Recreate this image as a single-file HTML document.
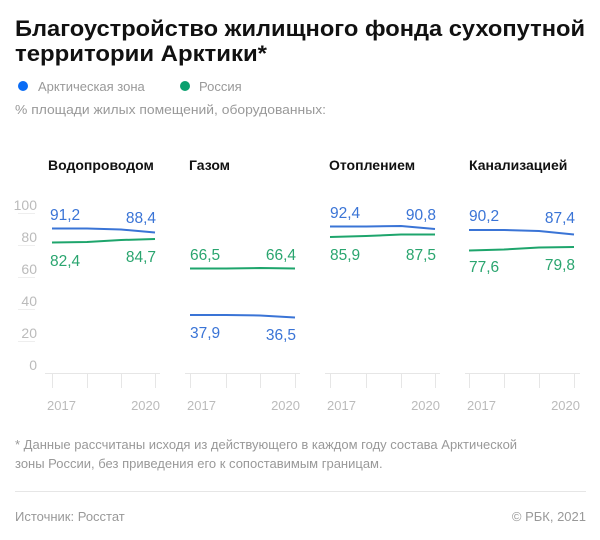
<!DOCTYPE html>
<html><head><meta charset="utf-8"><style>
body{margin:0;background:#fff}
svg{display:block;font-family:"Liberation Sans","DejaVu Sans",sans-serif}
</style></head><body>
<svg width="600" height="540" viewBox="0 0 600 540" xmlns="http://www.w3.org/2000/svg">
<text x="15" y="36" font-size="22.5" font-weight="bold" fill="#111" textLength="570" lengthAdjust="spacingAndGlyphs">Благоустройство жилищного фонда сухопутной</text>
<text x="15" y="61" font-size="22.5" font-weight="bold" fill="#111" textLength="252" lengthAdjust="spacingAndGlyphs">территории Арктики*</text>
<circle cx="23" cy="86" r="5" fill="#0a6cf5"/>
<text x="38" y="91" font-size="13" fill="#999">Арктическая зона</text>
<circle cx="185" cy="86" r="5" fill="#0aa06e"/>
<text x="199" y="91" font-size="13" fill="#999">Россия</text>
<text x="15" y="114" font-size="13" fill="#999" textLength="311" lengthAdjust="spacingAndGlyphs">% площади жилых помещений, оборудованных:</text>

<g font-size="14" font-weight="bold" fill="#111">
<text x="48" y="170">Водопроводом</text>
<text x="189" y="170">Газом</text>
<text x="329" y="170">Отоплением</text>
<text x="469" y="170">Канализацией</text>
</g>

<g font-size="14" fill="#bbb" text-anchor="end">
<text x="37" y="210">100</text><text x="37" y="242">80</text><text x="37" y="274">60</text>
<text x="37" y="306">40</text><text x="37" y="338">20</text><text x="37" y="370">0</text>
</g>
<g stroke="#eee" stroke-width="1">
<line x1="18" x2="35" y1="213.5" y2="213.5"/><line x1="18" x2="35" y1="245.5" y2="245.5"/>
<line x1="18" x2="35" y1="277.5" y2="277.5"/><line x1="18" x2="35" y1="309.5" y2="309.5"/>
<line x1="18" x2="35" y1="341.5" y2="341.5"/>
</g>

<g stroke="#e6e6e6" stroke-width="1">
<line x1="45" x2="160" y1="373.5" y2="373.5"/>
<line x1="185" x2="300" y1="373.5" y2="373.5"/>
<line x1="325" x2="440" y1="373.5" y2="373.5"/>
<line x1="465" x2="580" y1="373.5" y2="373.5"/>
<path d="M52.5 373V388M87.5 373V388M121.5 373V388M155.5 373V388M190.5 373V388M226.5 373V388M260.5 373V388M295.5 373V388M330.5 373V388M366.5 373V388M401.5 373V388M435.5 373V388M469.5 373V388M504.5 373V388M539.5 373V388M574.5 373V388"/>
</g>
<g font-size="13" fill="#bbb">
<text x="47" y="410">2017</text><text x="160" y="410" text-anchor="end">2020</text>
<text x="187" y="410">2017</text><text x="300" y="410" text-anchor="end">2020</text>
<text x="327" y="410">2017</text><text x="440" y="410" text-anchor="end">2020</text>
<text x="467" y="410">2017</text><text x="580" y="410" text-anchor="end">2020</text>
</g>

<g fill="none" stroke-width="2">
<polyline stroke="#3a74d6" points="52,228.5 87,228.5 121,229.5 155,232.5"/>
<polyline stroke="#1ea56c" points="52,242.5 87,242 121,240 155,239"/>
<polyline stroke="#1ea56c" points="190,268.5 226,268.5 260,268 295,268.5"/>
<polyline stroke="#3a74d6" points="190,315 226,315 260,315.5 295,317.5"/>
<polyline stroke="#3a74d6" points="330,226.5 366,226.5 401,226 435,229"/>
<polyline stroke="#1ea56c" points="330,237 366,236 401,234.5 435,234.5"/>
<polyline stroke="#3a74d6" points="469,230 504,230 539,231 574,234.5"/>
<polyline stroke="#1ea56c" points="469,250.5 504,249.5 539,247.5 574,247"/>
</g>
<g font-size="15.5">
<g fill="#3a74d6">
<text x="50" y="220">91,2</text><text x="156" y="223" text-anchor="end">88,4</text>
<text x="190" y="338">37,9</text><text x="296" y="340" text-anchor="end">36,5</text>
<text x="330" y="218">92,4</text><text x="436" y="220" text-anchor="end">90,8</text>
<text x="469" y="221">90,2</text><text x="575" y="223" text-anchor="end">87,4</text>
</g>
<g fill="#2aa56f">
<text x="50" y="266">82,4</text><text x="156" y="262" text-anchor="end">84,7</text>
<text x="190" y="260">66,5</text><text x="296" y="260" text-anchor="end">66,4</text>
<text x="330" y="260">85,9</text><text x="436" y="260" text-anchor="end">87,5</text>
<text x="469" y="272">77,6</text><text x="575" y="270" text-anchor="end">79,8</text>
</g>
</g>

<g font-size="13" fill="#999">
<text x="15" y="449">* Данные рассчитаны исходя из действующего в каждом году состава Арктической</text>
<text x="15" y="468">зоны России, без приведения его к сопоставимым границам.</text>
<text x="15" y="521">Источник: Росстат</text>
<text x="586" y="521" text-anchor="end">© РБК, 2021</text>
</g>
<line x1="15" x2="586" y1="491.5" y2="491.5" stroke="#e6e6e6"/>
</svg>
</body></html>
